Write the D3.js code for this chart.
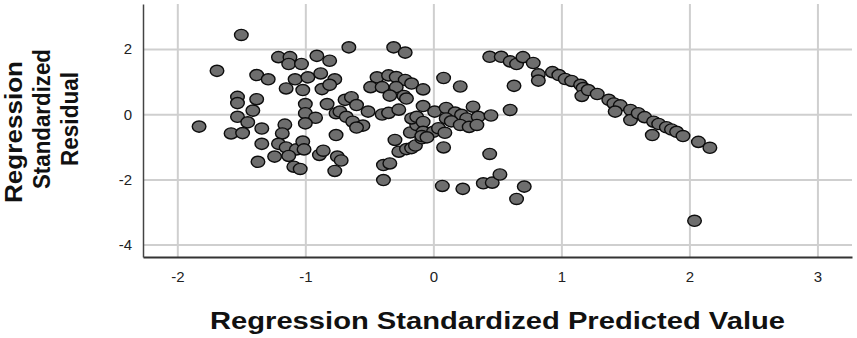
<!DOCTYPE html>
<html>
<head>
<meta charset="utf-8">
<script src="https://cdn.jsdelivr.net/npm/d3@7"></script>
<style>
    body { margin: 0; background: #fff; }
    svg text { font-family: "Liberation Sans", Arial, sans-serif; }
</style>
</head>
<body>
<div id="scatter-plot"></div>
<script>
// x: standardized predicted value
const predicted = [
    -1.83, -1.69, -1.50, -1.53, -1.53, -1.53, -1.41, -1.38, -1.45, -1.58,
    -1.49, -1.34, -1.34, -1.37, -1.38, -1.29, -1.21, -1.12, -1.13, -1.03,
    -0.91, -0.81, -1.08, -0.98, -0.88, -0.77, -1.15, -1.02, -0.87, -0.81,
    -1.00, -0.83, -1.00, -0.92, -1.00, -0.76, -1.16, -1.18, -1.21, -1.15,
    -1.07, -1.02, -1.01, -1.24, -1.13, -1.09, -1.04, -0.89, -0.86, -0.76,
    -0.75, -0.77, -0.72,
    -0.66, -0.31, -0.22, -0.44, -0.35, -0.29, -0.22, -0.17, -0.08, -0.49,
    -0.40, -0.29, -0.34, -0.23, -0.21, -0.69, -0.64, -0.60, -0.51, -0.40,
    -0.35, -0.27, -0.73, -0.68, -0.63, -0.55, -0.60, -0.30, -0.27, -0.21,
    -0.17, -0.14, -0.09, -0.18, -0.13, -0.17, -0.13, -0.08, -0.08, -0.08,
    0.01, 0.00, 0.04, 0.09, -0.09, -0.05, 0.08, -0.39, -0.34, -0.39,
    0.08, 0.21,
    0.10, 0.17, 0.22, 0.26, 0.10, 0.14, 0.21, 0.28, 0.31, 0.35,
    0.34, 0.45, 0.60, 0.44, 0.07, 0.23, 0.39, 0.46, 0.52, 0.71,
    0.65, 0.63, 0.44, 0.53, 0.60, 0.65, 0.70, 0.78, 0.82, 0.82,
    0.93, 0.98, 1.03, 1.08, 1.15, 1.17, 1.16, 1.21, 1.28, 1.37,
    1.41, 1.46, 1.42, 1.54, 1.54, 1.60, 1.65, 1.72, 1.76, 1.82,
    1.86, 1.90, 1.95, 1.71, 2.07, 2.16, 2.04
];

// y: standardized residual
const residual = [
    -0.38, 1.33, 2.43, 0.53, 0.34, -0.08, 0.11, 0.46, -0.25, -0.59,
    -0.58, -0.44, -0.91, -1.46, 1.20, 1.07, 1.75, 1.75, 1.54, 1.54,
    1.79, 1.64, 1.07, 1.13, 1.25, 1.07, 0.79, 0.74, 0.77, 0.90,
    0.31, 0.31, 0.03, -0.11, -0.28, 0.03, -0.32, -0.59, -0.91, -1.02,
    -1.08, -0.84, -1.08, -1.30, -1.28, -1.61, -1.68, -1.25, -1.12, -0.64,
    -1.30, -1.74, -1.42,
    2.05, 2.05, 1.89, 1.13, 1.19, 1.14, 1.05, 0.94, 0.76, 0.83,
    0.83, 0.83, 0.57, 0.56, 0.48, 0.44, 0.52, 0.28, 0.08, -0.01,
    0.04, 0.14, 0.08, -0.08, -0.23, -0.35, -0.41, -0.79, -1.15, -1.07,
    -1.04, -0.96, -0.74, -0.56, -0.33, -0.13, -0.08, -0.24, -0.54, 0.25,
    0.08, -0.54, -0.43, -0.57, -0.67, -0.71, -1.02, -1.56, -1.51, -2.02,
    1.11, 0.85,
    0.19, 0.05, -0.02, -0.13, -0.13, -0.22, -0.33, -0.39, 0.23, -0.08,
    -0.33, -0.04, 0.13, -1.22, -2.20, -2.29, -2.12, -2.10, -1.85, -2.22,
    -2.60, 0.87, 1.76, 1.76, 1.62, 1.54, 1.75, 1.57, 1.22, 1.03,
    1.29, 1.20, 1.08, 1.02, 0.90, 0.80, 0.56, 0.74, 0.62, 0.44,
    0.33, 0.27, 0.08, 0.13, -0.18, 0.03, -0.09, -0.23, -0.30, -0.40,
    -0.47, -0.54, -0.67, -0.64, -0.85, -1.03, -3.27
];

const xTicks = [-2, -1, 0, 1, 2, 3];
const yTicks = [-4, -2, 0, 2];
const xTitle = "Regression Standardized Predicted Value";
const yTitle = ["Regression", "Standardized", "Residual"];

const width = 857;
const height = 338;
const margin = {top: 4, right: 5, bottom: 81, left: 143};
const plotWidth = width - margin.left - margin.right;
const plotHeight = height - margin.top - margin.bottom;

const xScale = d3.scaleLinear()
    .domain([-2.268, 3.27])
    .range([0, plotWidth]);

const yScale = d3.scaleLinear()
    .domain([-4.38, 3.38])
    .range([plotHeight, 0]);

const root = d3.select("#scatter-plot")
    .append("svg")
    .attr("width", width)
    .attr("height", height);

const svg = root.append("g")
    .attr("transform", `translate(${margin.left},${margin.top})`);

// grid
svg.append("g")
    .attr("class", "grid")
    .attr("transform", `translate(0,${plotHeight})`)
    .call(d3.axisBottom(xScale)
        .tickValues(xTicks)
        .tickSize(-plotHeight)
        .tickFormat(""));

svg.append("g")
    .attr("class", "grid")
    .call(d3.axisLeft(yScale)
        .tickValues(yTicks)
        .tickSize(-plotWidth)
        .tickFormat(""));

svg.selectAll(".grid line")
    .style("stroke", "#cfcfcf")
    .style("stroke-width", 2);
svg.selectAll(".grid path").remove();

// points
const points = predicted.map((x, i) => ({x, y: residual[i]}));

svg.append("g")
    .selectAll("ellipse")
    .data(points)
    .enter()
    .append("ellipse")
    .attr("cx", d => xScale(d.x))
    .attr("cy", d => yScale(d.y))
    .attr("rx", 6.8)
    .attr("ry", 5.6)
    .attr("fill", "#6e6e6e")
    .attr("stroke", "#0d0d0d")
    .attr("stroke-width", 1.4);

// axes (plain hyphen for negative labels, as in SPSS)
const xAxis = svg.append("g")
    .attr("class", "x-axis")
    .attr("transform", `translate(0,${plotHeight})`)
    .call(d3.axisBottom(xScale)
        .tickValues(xTicks)
        .tickSize(0)
        .tickPadding(14)
        .tickFormat(d => String(d)));

const yAxis = svg.append("g")
    .attr("class", "y-axis")
    .call(d3.axisLeft(yScale)
        .tickValues(yTicks)
        .tickSize(0)
        .tickPadding(11)
        .tickFormat(d => String(d)));

xAxis.select(".domain").attr("stroke", "#333").attr("stroke-width", 2);
yAxis.select(".domain").attr("stroke", "#444").attr("stroke-width", 1.5);

svg.selectAll(".x-axis text, .y-axis text")
    .style("font-size", "15px")
    .style("font-family", "'Liberation Sans', Arial, sans-serif")
    .attr("fill", "#222");

// titles
root.append("text")
    .attr("x", 497.5)
    .attr("y", 329)
    .attr("text-anchor", "middle")
    .attr("textLength", 575)
    .attr("lengthAdjust", "spacingAndGlyphs")
    .style("font-size", "23px")
    .style("font-weight", "bold")
    .attr("fill", "#111")
    .text(xTitle);

const yTitlePos = [
    {x: 22, y: 132, len: 142},
    {x: 50, y: 119, len: 140},
    {x: 78, y: 119, len: 94}
];

yTitle.forEach((t, i) => {
    const p = yTitlePos[i];
    root.append("text")
        .attr("transform", `translate(${p.x},${p.y}) rotate(-90)`)
        .attr("text-anchor", "middle")
        .attr("textLength", p.len)
        .attr("lengthAdjust", "spacingAndGlyphs")
        .style("font-size", "24px")
        .style("font-weight", "bold")
        .attr("fill", "#111")
        .text(t);
});
</script>
</body>
</html>
